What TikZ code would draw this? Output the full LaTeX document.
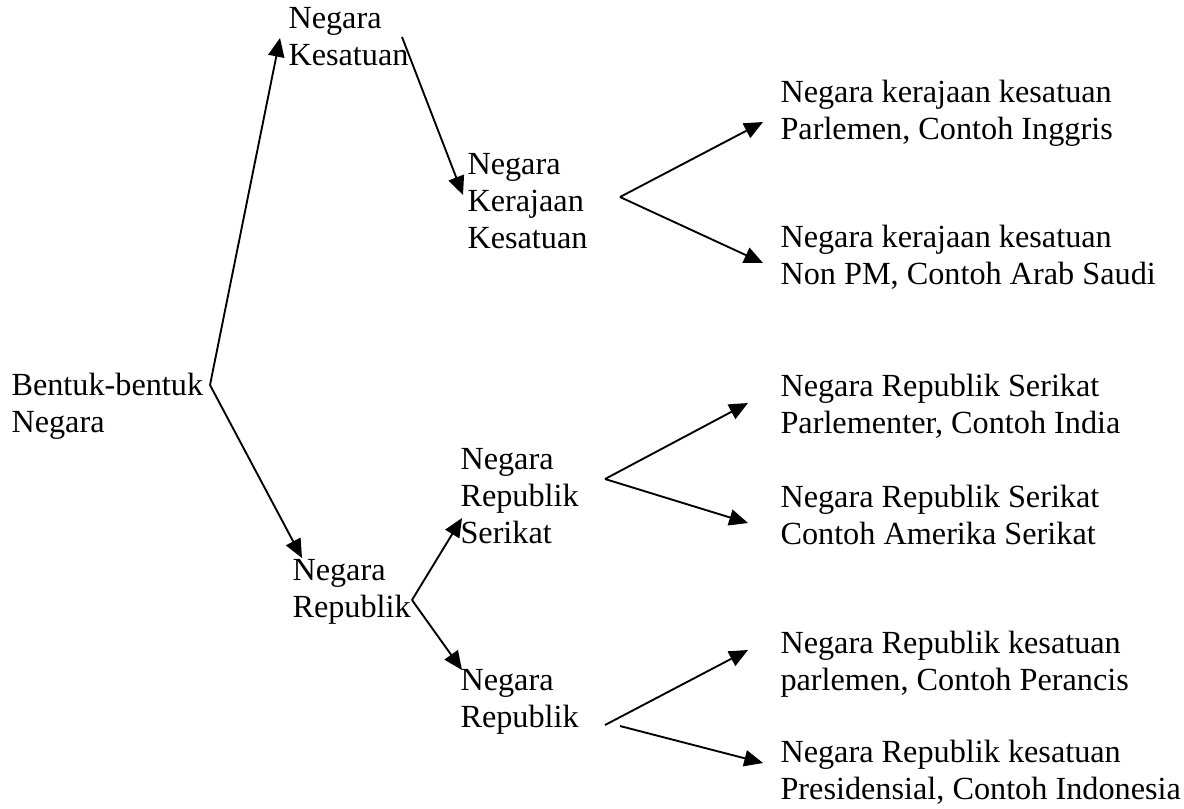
\documentclass[tikz,border=0pt]{standalone}
\usepackage{fontspec}
\setmainfont{Liberation Serif}
\usetikzlibrary{arrows.meta}

\begin{document}
\begin{tikzpicture}[x=0.4pt,y=-0.4pt,
    teks/.style={anchor=base west,inner sep=0pt,align=left,font=\fontsize{12.9}{14.7}\selectfont},
    cabang/.style={-{Triangle[length=7.5pt,width=6.5pt]},line width=0.75pt}]
    % \draw[help lines,step=50] (0,0) grid (1184,808);
    \useasboundingbox (0,0) rectangle (1184,808);

    % anchor = baseline of the last line
    \node[teks] (bentuk) at (11,432) {Bentuk-bentuk\\Negara};
    \node[teks] (kesatuan) at (288,65) {Negara\\Kesatuan};
    \node[teks] (kerajaan) at (467,248) {Negara\\Kerajaan\\Kesatuan};
    \node[teks] (republik) at (292,617) {Negara\\Republik};
    \node[teks] (serikat) at (460,543) {Negara\\Republik\\Serikat};
    \node[teks] (rkesatuan) at (460,727) {Negara\\Republik};

    \node[teks] (inggris) at (780,139) {Negara kerajaan kesatuan\\Parlemen, Contoh Inggris};
    \node[teks] (arab) at (780,284) {Negara kerajaan kesatuan\\Non PM, Contoh Arab Saudi};
    \node[teks] (india) at (780,433) {Negara Republik Serikat\\Parlementer, Contoh India};
    \node[teks] (amerika) at (780,544) {Negara Republik Serikat\\Contoh Amerika Serikat};
    \node[teks] (perancis) at (780,690) {Negara Republik kesatuan\\parlemen, Contoh Perancis};
    \node[teks] (indonesia) at (780,799) {Negara Republik kesatuan\\Presidensial, Contoh Indonesia};

    % titik cabang
    \coordinate (c-bentuk) at (210,385);
    \coordinate (c-kesatuan) at (402,37);
    \coordinate (c-kerajaan) at (620,197);
    \coordinate (c-republik) at (412,600);
    \coordinate (c-serikat) at (605,479);
    \coordinate (c-rkes1) at (605,725);
    \coordinate (c-rkes2) at (620,726);

    % ujung panah
    \coordinate (u-kesatuan) at (280,38);
    \coordinate (u-republik) at (302,558);
    \coordinate (u-kerajaan) at (463,195);
    \coordinate (u-inggris) at (763,122);
    \coordinate (u-arab) at (763,263);
    \coordinate (u-serikat) at (462,518);
    \coordinate (u-rkesatuan) at (462,670);
    \coordinate (u-india) at (748,403);
    \coordinate (u-amerika) at (748,523);
    \coordinate (u-perancis) at (748,650);
    \coordinate (u-indonesia) at (763,763);

    \draw[cabang] (c-bentuk) -- (u-kesatuan);
    \draw[cabang] (c-bentuk) -- (u-republik);
    \draw[cabang] (c-kesatuan) -- (u-kerajaan);
    \draw[cabang] (c-kerajaan) -- (u-inggris);
    \draw[cabang] (c-kerajaan) -- (u-arab);
    \draw[cabang] (c-republik) -- (u-serikat);
    \draw[cabang] (c-republik) -- (u-rkesatuan);
    \draw[cabang] (c-serikat) -- (u-india);
    \draw[cabang] (c-serikat) -- (u-amerika);
    \draw[cabang] (c-rkes1) -- (u-perancis);
    \draw[cabang] (c-rkes2) -- (u-indonesia);
\end{tikzpicture}
\end{document}
